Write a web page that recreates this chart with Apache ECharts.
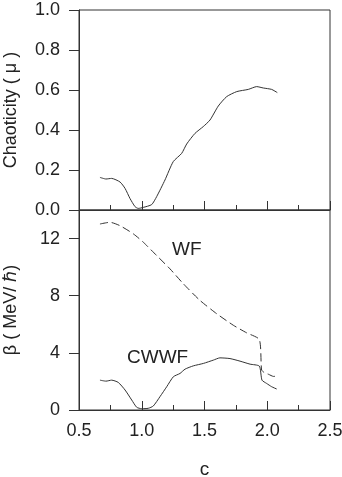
<!DOCTYPE html>
<html>
<head>
<meta charset="utf-8">
<script src="https://cdn.jsdelivr.net/npm/echarts@6/dist/echarts.min.js"></script>
<style>
  html, body { margin: 0; padding: 0; background: #fff; }
  #chart { width: 342px; height: 477px; }
</style>
</head>
<body>
<div id="chart"></div>
<script>
// chaoticity (top panel)
var muC   = [0.667, 0.715, 0.76, 0.827, 0.867, 0.906, 0.946, 0.972, 1.012, 1.079, 1.119, 1.185, 1.251, 1.318, 1.358, 1.424, 1.49, 1.544, 1.61, 1.677, 1.757, 1.849, 1.916, 1.969, 2.035, 2.08];
var muVal = [0.163, 0.155, 0.158, 0.14, 0.108, 0.058, 0.017, 0.008, 0.013, 0.027, 0.067, 0.15, 0.242, 0.283, 0.33, 0.383, 0.417, 0.45, 0.52, 0.567, 0.592, 0.603, 0.617, 0.61, 0.603, 0.587];

// beta, WF (dashed)
var wfC   = [0.667, 0.747, 0.827, 0.933, 1.013, 1.119, 1.225, 1.331, 1.464, 1.597, 1.73, 1.836, 1.937, 1.955, 1.98, 2.01, 2.05, 2.08];
var wfVal = [13.02, 13.14, 12.9, 12.33, 11.74, 10.81, 9.88, 8.84, 7.67, 6.74, 5.93, 5.4, 4.93, 2.8, 2.6, 2.5, 2.35, 2.38];

// beta, CWWF (solid)
var cwC   = [0.667, 0.715, 0.76, 0.813, 0.867, 0.92, 0.96, 1.0, 1.052, 1.092, 1.145, 1.199, 1.252, 1.305, 1.345, 1.411, 1.491, 1.57, 1.623, 1.703, 1.783, 1.863, 1.937, 1.958, 1.995, 2.035, 2.075];
var cwVal = [2.09, 2.02, 2.09, 1.93, 1.4, 0.7, 0.19, 0.09, 0.12, 0.28, 0.93, 1.63, 2.33, 2.56, 2.86, 3.09, 3.26, 3.49, 3.65, 3.6, 3.42, 3.21, 3.07, 2.09, 1.86, 1.63, 1.47];

var pairs = function (xs, ys) {
    var out = [];
    for (var i = 0; i < xs.length; i++) {
        out.push([xs[i], ys[i]]);
    }
    return out;
};

var font = '"Liberation Sans", Arial, sans-serif';
var ink = '#333';

var xAxisBase = function (idx, withLabels) {
    return {
        type: 'value',
        gridIndex: idx,
        min: 0.5,
        max: 2.5,
        interval: 0.5,
        axisLine: {show: true, lineStyle: {color: ink, width: 1}},
        axisTick: {show: true, inside: true, length: 9, lineStyle: {color: ink}},
        minorTick: {show: true, splitNumber: 2, length: 5, lineStyle: {color: ink}},
        splitLine: {show: false},
        axisLabel: {
            show: withLabels,
            margin: 12,
            fontSize: 18,
            fontFamily: font,
            color: '#222',
            formatter: function (v) { return v.toFixed(1); }
        },
        name: withLabels ? 'c' : '',
        nameLocation: 'middle',
        nameGap: 50,
        nameTextStyle: {fontSize: 19, fontFamily: font, color: '#222'}
    };
};

var yAxisBase = function (idx, opts) {
    return {
        type: 'value',
        gridIndex: idx,
        min: opts.min,
        max: opts.max,
        interval: opts.interval,
        axisLine: {show: true, lineStyle: {color: ink, width: 1}},
        axisTick: {show: true, inside: false, length: 10, lineStyle: {color: ink}},
        splitLine: {show: false},
        axisLabel: {
            margin: 19,
            fontSize: 18,
            fontFamily: font,
            color: '#222',
            showMaxLabel: opts.showMax,
            formatter: opts.fmt
        },
        name: opts.name,
        nameLocation: 'middle',
        nameGap: 59,
        nameRotate: 90,
        nameTextStyle: {fontSize: 18, fontFamily: font, color: '#222'}
    };
};

var chart = echarts.init(document.getElementById('chart'));
var option = {
    backgroundColor: '#fff',
    animation: false,
    grid: [
        {left: 79, right: 12, top: 10, height: 200, outerBoundsMode: 'none', containLabel: false,
            show: true, borderColor: ink, borderWidth: 1, backgroundColor: 'transparent'},
        {left: 79, right: 12, top: 210, height: 200, outerBoundsMode: 'none', containLabel: false,
            show: true, borderColor: ink, borderWidth: 1, backgroundColor: 'transparent'}
    ],
    xAxis: [xAxisBase(0, false), xAxisBase(1, true)],
    yAxis: [
        yAxisBase(0, {min: 0, max: 1, interval: 0.2, showMax: true, name: 'Chaoticity ( \u03bc )',
            fmt: function (v) { return v.toFixed(1); }}),
        yAxisBase(1, {min: 0, max: 14, interval: 4, showMax: false, name: '\u03b2 ( MeV/ \u210f)',
            fmt: function (v) { return String(v); }})
    ],
    series: [
        {
            type: 'line', xAxisIndex: 0, yAxisIndex: 0,
            data: pairs(muC, muVal),
            showSymbol: false, smooth: 0.2,
            lineStyle: {color: ink, width: 1}
        },
        {
            type: 'line', xAxisIndex: 1, yAxisIndex: 1,
            data: pairs(wfC, wfVal),
            showSymbol: false, smooth: 0.2,
            lineStyle: {color: ink, width: 1, type: [8, 4]}
        },
        {
            type: 'line', xAxisIndex: 1, yAxisIndex: 1,
            data: pairs(cwC, cwVal),
            showSymbol: false, smooth: 0.2,
            lineStyle: {color: ink, width: 1}
        }
    ],
    graphic: [
        {type: 'text', left: 172, top: 240, style: {text: 'WF', fontSize: 19, fontFamily: font, fill: '#222'}},
        {type: 'text', left: 127, top: 348, style: {text: 'CWWF', fontSize: 19, fontFamily: font, fill: '#222'}}
    ]
};
chart.setOption(option);
</script>
</body>
</html>
